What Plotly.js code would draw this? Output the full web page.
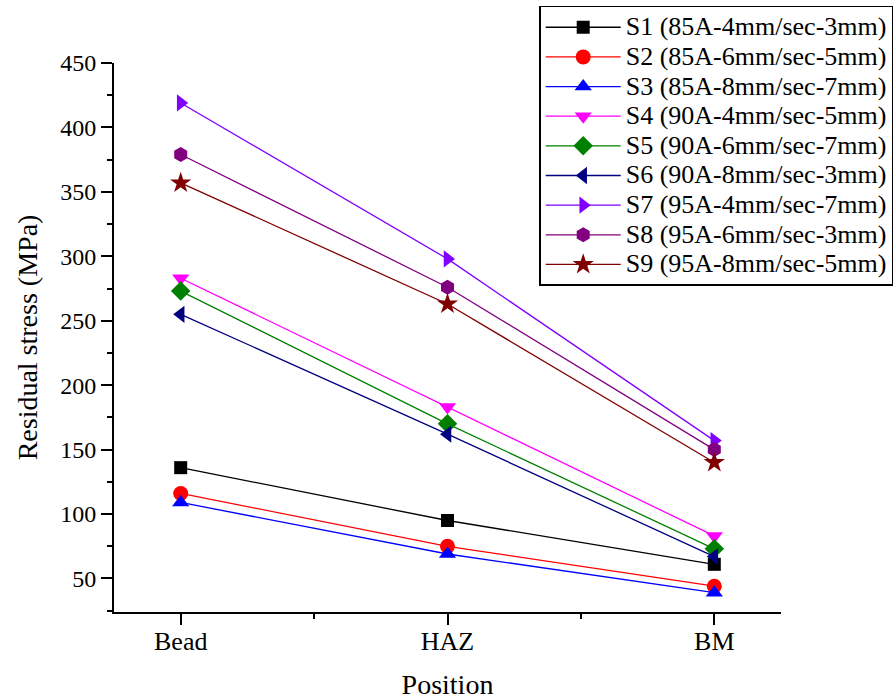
<!DOCTYPE html>
<html>
<head>
<meta charset="utf-8">
<script src="https://cdn.plot.ly/plotly-3.0.1.min.js"></script>
<style>html,body{margin:0;padding:0;background:#fff;}#chart{width:895px;height:700px;}</style>
</head>
<body>
<div id="chart"></div>
<script>
const positions = ['Bead', 'HAZ', 'BM'];
const seriesNames = [
  'S1 (85A-4mm/sec-3mm)', 'S2 (85A-6mm/sec-5mm)', 'S3 (85A-8mm/sec-7mm)',
  'S4 (90A-4mm/sec-5mm)', 'S5 (90A-6mm/sec-7mm)', 'S6 (90A-8mm/sec-3mm)',
  'S7 (95A-4mm/sec-7mm)', 'S8 (95A-6mm/sec-3mm)', 'S9 (95A-8mm/sec-5mm)'
];
const s1 = [136, 95, 61];
const s2 = [116, 75, 44];
const s3 = [109, 69, 39];
const s4 = [283, 183, 83];
const s5 = [273, 170, 73];
const s6 = [255, 162, 67];
const s7 = [419, 298, 157];
const s8 = [379, 276, 150];
const s9 = [357, 263, 140];
const seriesValues = [s1, s2, s3, s4, s5, s6, s7, s8, s9];

const colors = ['#000000', '#ff0000', '#0000ff', '#ff00ff', '#008000', '#000080', '#8000ff', '#800080', '#800000'];
const symbols = ['square', 'circle', 'triangle-up', 'triangle-down', 'diamond', 'triangle-left', 'triangle-right', 'hexagon', 'star'];
const sizes = [13, 15, 15, 15, 15, 15, 15, 15, 16];

const FONT = 'Liberation Serif';
const xIndex = positions.map((p, i) => i);

const traces = seriesValues.map((vals, k) => ({
  type: 'scatter',
  mode: 'lines+markers',
  x: xIndex,
  y: vals,
  name: '<span style="font-size:26px">' + seriesNames[k] + '</span>',
  line: {color: colors[k], width: 1.3},
  marker: {symbol: symbols[k], size: sizes[k], color: colors[k], line: {width: 0}}
}));

const layout = {
  width: 895,
  height: 700,
  margin: {l: 114, r: 114, t: 63, b: 88, autoexpand: false},
  paper_bgcolor: '#ffffff',
  plot_bgcolor: '#ffffff',
  font: {family: FONT, color: '#000000', size: 24},
  showlegend: true,
  legend: {
    x: 0.6375, y: 1.104, xanchor: 'left', yanchor: 'top',
    bgcolor: '#ffffff', bordercolor: '#000000', borderwidth: 1.5,
    font: {size: 20.5, family: FONT, color: '#000'},
    itemwidth: 75, tracegroupgap: 0
  },
  xaxis: {
    range: [-0.25, 2.25],
    tickmode: 'array', tickvals: xIndex, ticktext: positions,
    ticks: 'outside', ticklen: 11, tickwidth: 2, tickcolor: '#000',
    ticklabelstandoff: -6,
    showline: true, linewidth: 2, linecolor: '#000',
    showgrid: false, zeroline: false,
    tickfont: {size: 26, family: FONT, color: '#000'},
    minor: {tickmode: 'linear', tick0: 0.5, dtick: 1, ticks: 'outside', ticklen: 5, tickwidth: 2, tickcolor: '#000', showgrid: false},
    title: {text: 'Position', font: {size: 28, family: FONT, color: '#000'}, standoff: 20}
  },
  yaxis: {
    range: [24, 450],
    tickmode: 'linear', tick0: 0, dtick: 50,
    ticks: 'outside', ticklen: 11, tickwidth: 2, tickcolor: '#000',
    showline: true, linewidth: 2, linecolor: '#000',
    showgrid: false, zeroline: false,
    tickfont: {size: 24, family: FONT, color: '#000'},
    minor: {dtick: 25, ticks: 'outside', ticklen: 5, tickwidth: 2, tickcolor: '#000', showgrid: false},
    title: {text: 'Residual stress (MPa)', font: {size: 28, family: FONT, color: '#000'}, standoff: 14}
  }
};

Plotly.newPlot('chart', traces, layout, {displayModeBar: false, staticPlot: true});
</script>
</body>
</html>
